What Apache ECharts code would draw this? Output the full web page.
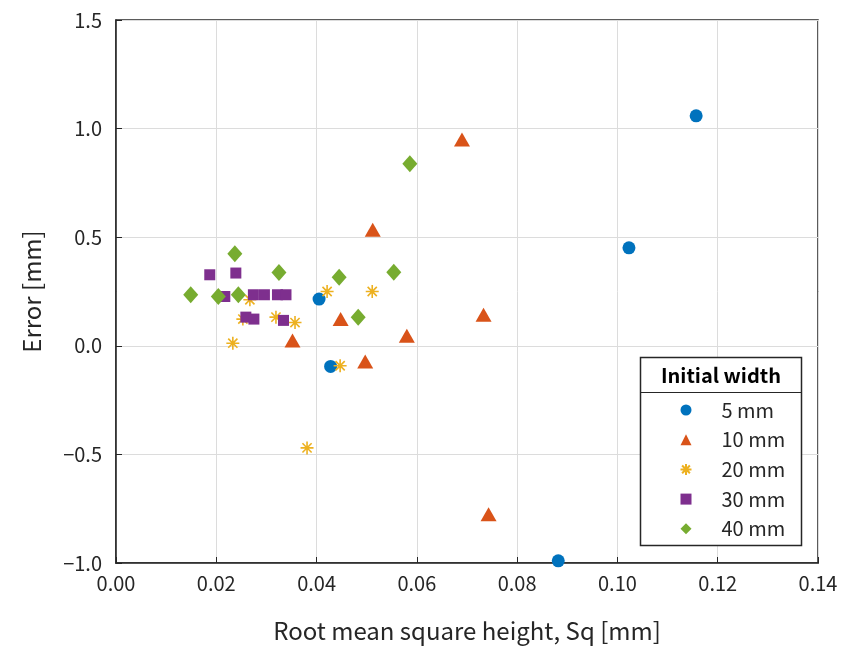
<!DOCTYPE html>
<html>
<head>
<meta charset="utf-8">
<script src="https://cdn.jsdelivr.net/npm/echarts@6/dist/echarts.min.js"></script>
<style>
  html, body { margin: 0; padding: 0; background: #fff; }
  #chart { width: 850px; height: 655px; }
</style>
</head>
<body>
<div id="chart"></div>
<script>
// Sq [mm] vs error [mm], one pair of arrays per initial width
const sq5 = [0.0405, 0.0428, 0.0882, 0.1023, 0.1157];
const err5 = [0.215, -0.095, -0.99, 0.451, 1.059];

const sq10 = [0.069, 0.0512, 0.0448, 0.0352, 0.0497, 0.058, 0.0733, 0.0743];
const err10 = [0.95, 0.534, 0.123, 0.024, -0.072, 0.046, 0.143, -0.775];

const sq20 = [0.0267, 0.0253, 0.0319, 0.0357, 0.0233, 0.0421, 0.0511, 0.0447, 0.0381];
const err20 = [0.212, 0.123, 0.132, 0.107, 0.012, 0.25, 0.25, -0.092, -0.47];

const sq30 = [0.0187, 0.0239, 0.0217, 0.0274, 0.0296, 0.0322, 0.0339, 0.0259, 0.0275, 0.0334];
const err30 = [0.327, 0.335, 0.227, 0.235, 0.235, 0.235, 0.235, 0.132, 0.123, 0.117];

const sq40 = [0.0237, 0.0149, 0.0204, 0.0244, 0.0325, 0.0445, 0.0554, 0.0483, 0.0586];
const err40 = [0.424, 0.235, 0.227, 0.235, 0.338, 0.316, 0.339, 0.132, 0.838];

const legendNames = ["5 mm", "10 mm", "20 mm", "30 mm", "40 mm"];

const zip = (xs, ys) => xs.map((x, i) => [x, ys[i]]);
const minus = (s) => s.replace("-", "\u2212");

const font = "'Noto Sans CJK JP', 'Liberation Sans', sans-serif";
const ink = "#262626";
const asterisk = "path://M0,-10L0,10M-10,0L10,0M-7.07,-7.07L7.07,7.07M-7.07,7.07L7.07,-7.07";

const chart = echarts.init(document.getElementById("chart"));

const series = [
    {
        name: legendNames[0],
        type: "scatter",
        symbol: "circle",
        symbolSize: 13,
        itemStyle: { color: "#0072BD", opacity: 1 },
        data: zip(sq5, err5)
    },
    {
        name: legendNames[1],
        type: "scatter",
        symbol: "triangle",
        symbolSize: [16, 14],
        itemStyle: { color: "#D95319", opacity: 1 },
        data: zip(sq10, err10)
    },
    {
        name: legendNames[2],
        type: "scatter",
        symbol: asterisk,
        symbolSize: 13,
        itemStyle: { color: "rgba(0,0,0,0)", borderColor: "#EDB120", borderWidth: 1.6, opacity: 1 },
        data: zip(sq20, err20)
    },
    {
        name: legendNames[3],
        type: "scatter",
        symbol: "rect",
        symbolSize: 11,
        itemStyle: { color: "#7E2F8E", opacity: 1 },
        data: zip(sq30, err30)
    },
    {
        name: legendNames[4],
        type: "scatter",
        symbol: "diamond",
        symbolSize: [15, 17],
        itemStyle: { color: "#77AC30", opacity: 1 },
        data: zip(sq40, err40)
    }
];

chart.setOption({
    animation: false,
    backgroundColor: "#fff",
    textStyle: { fontFamily: font },
    grid: {
        left: 116,
        right: 32,
        top: 20,
        bottom: 92,
        show: true,
        borderColor: ink,
        borderWidth: 1.5,
        backgroundColor: "transparent"
    },
    xAxis: {
        type: "value",
        min: 0,
        max: 0.14,
        interval: 0.02,
        name: "Root mean square height, Sq [mm]",
        nameLocation: "middle",
        nameGap: 56,
        nameTextStyle: { color: ink, fontSize: 24, fontFamily: font },
        axisLine: { show: true, onZero: false, lineStyle: { color: ink, width: 1.5 } },
        axisTick: { show: true, inside: true, length: 6, lineStyle: { color: ink } },
        axisLabel: {
            color: ink, fontSize: 20, margin: 10, fontFamily: font,
            formatter: (v) => v.toFixed(2)
        },
        splitLine: { show: true, lineStyle: { color: "#dcdcdc", width: 1 } }
    },
    yAxis: {
        type: "value",
        min: -1.0,
        max: 1.5,
        interval: 0.5,
        name: "Error [mm]",
        nameLocation: "middle",
        nameGap: 72,
        nameTextStyle: { color: ink, fontSize: 24, fontFamily: font },
        axisLine: { show: true, onZero: false, lineStyle: { color: ink, width: 1.5 } },
        axisTick: { show: true, inside: true, length: 6, lineStyle: { color: ink } },
        axisLabel: {
            color: ink, fontSize: 20, margin: 14, fontFamily: font,
            formatter: (v) => minus(v.toFixed(1))
        },
        splitLine: { show: true, lineStyle: { color: "#dcdcdc", width: 1 } }
    },
    legend: {
        orient: "vertical",
        z: 100,
        left: 674.5,
        top: 395,
        itemWidth: 11,
        itemHeight: 11,
        itemGap: 9.7,
        data: legendNames,
        textStyle: { color: ink, fontSize: 20, lineHeight: 20, padding: [0, 0, 0, 25], fontFamily: font }
    },
    graphic: [
        {
            type: "rect",
            z: 50,
            shape: { x: 640.5, y: 357.5, width: 161, height: 188 },
            style: { fill: "#fff", stroke: ink, lineWidth: 1.5 }
        },
        {
            type: "line",
            z: 51,
            shape: { x1: 640.5, y1: 392.5, x2: 801.5, y2: 392.5 },
            style: { stroke: ink, lineWidth: 1.2 }
        },
        {
            type: "text",
            z: 51,
            x: 721,
            y: 375,
            style: {
                text: "Initial width",
                fill: "#000",
                font: "bold 20px " + font,
                align: "center",
                verticalAlign: "middle"
            }
        }
    ],
    series: series
});
</script>
</body>
</html>
